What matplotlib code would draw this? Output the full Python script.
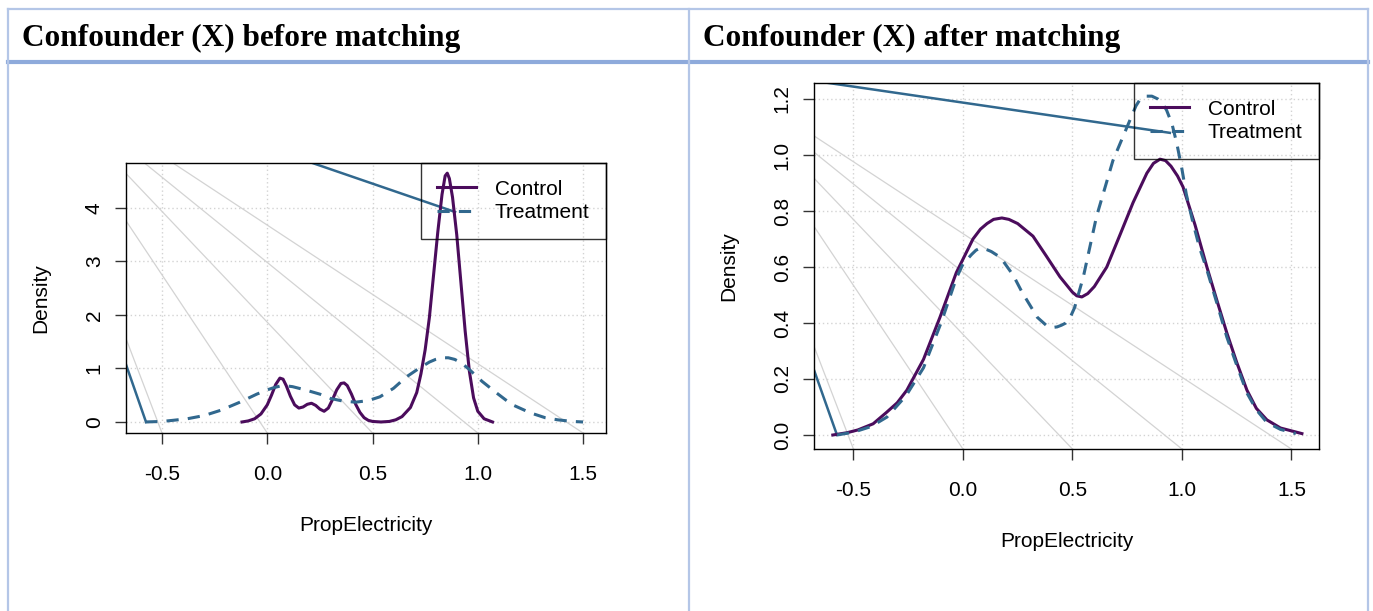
import matplotlib.pyplot as plt
from matplotlib.lines import Line2D

# density estimates of PropElectricity, before matching
before_ctrl_x = [-0.12, -0.09, -0.06, -0.03, 0.0, 0.02, 0.04, 0.06, 0.075, 0.09, 0.11, 0.13,
                 0.15, 0.17, 0.19, 0.21, 0.23, 0.25, 0.27, 0.29, 0.31, 0.33, 0.35, 0.365,
                 0.38, 0.40, 0.42, 0.44, 0.46, 0.48, 0.50, 0.54, 0.58, 0.61, 0.64, 0.68,
                 0.71, 0.73, 0.75, 0.77, 0.79, 0.81, 0.83, 0.845, 0.855, 0.865, 0.88, 0.90,
                 0.92, 0.94, 0.96, 0.98, 1.00, 1.03, 1.07]
before_ctrl_y = [0.0, 0.02, 0.06, 0.15, 0.32, 0.5, 0.7, 0.82, 0.8, 0.68, 0.48, 0.32,
                 0.26, 0.28, 0.33, 0.35, 0.31, 0.24, 0.2, 0.26, 0.42, 0.6, 0.72, 0.73,
                 0.68, 0.52, 0.33, 0.18, 0.08, 0.03, 0.01, 0.0, 0.01, 0.04, 0.1, 0.27,
                 0.55, 0.9, 1.35, 1.95, 2.75, 3.55, 4.25, 4.6, 4.65, 4.55, 4.2, 3.5,
                 2.6, 1.7, 0.95, 0.45, 0.2, 0.06, 0.0]
before_treat_x = [-0.58, -0.5, -0.45, -0.38, -0.3, -0.22, -0.13, -0.05, 0.0, 0.03, 0.06, 0.09,
                  0.12, 0.18, 0.25, 0.30, 0.36, 0.42, 0.48, 0.535, 0.60, 0.66, 0.72, 0.77,
                  0.80, 0.83, 0.86, 0.89, 0.92, 0.96, 1.02, 1.09, 1.16, 1.25, 1.32, 1.38,
                  1.45, 1.5]
before_treat_y = [0.0, 0.01, 0.03, 0.06, 0.12, 0.22, 0.37, 0.52, 0.6, 0.64, 0.67, 0.675,
                  0.66, 0.6, 0.52, 0.44, 0.39, 0.37, 0.4, 0.47, 0.63, 0.84, 1.0, 1.12,
                  1.17, 1.2, 1.2, 1.17, 1.11, 0.98, 0.76, 0.54, 0.33, 0.17, 0.08, 0.04,
                  0.01, 0.0]

# density estimates after matching
after_ctrl_x = [-0.594, -0.53, -0.48, -0.41, -0.35, -0.30, -0.256, -0.18, -0.105, -0.03, 0.046,
                0.08, 0.11, 0.14, 0.178, 0.21, 0.25, 0.32, 0.38, 0.443, 0.50, 0.52, 0.543,
                0.57, 0.60, 0.657, 0.72, 0.777, 0.84, 0.87, 0.90, 0.925, 0.95, 0.98, 1.005,
                1.06, 1.114, 1.16, 1.205, 1.25, 1.297, 1.34, 1.388, 1.45, 1.548]
after_ctrl_y = [0.0, 0.008, 0.018, 0.04, 0.08, 0.115, 0.16, 0.27, 0.42, 0.58, 0.70,
                0.735, 0.755, 0.77, 0.775, 0.77, 0.755, 0.71, 0.64, 0.565, 0.51, 0.497, 0.493,
                0.505, 0.53, 0.60, 0.72, 0.83, 0.935, 0.97, 0.985, 0.98, 0.96, 0.925, 0.886,
                0.75, 0.60, 0.48, 0.365, 0.26, 0.16, 0.095, 0.054, 0.025, 0.005]
after_treat_x = [-0.575, -0.5, -0.42, -0.347, -0.26, -0.18, -0.1, -0.03, 0.0, 0.04, 0.06,
                 0.078, 0.10, 0.13, 0.16, 0.18, 0.23, 0.27, 0.34, 0.383, 0.41, 0.43, 0.45,
                 0.47, 0.49, 0.51, 0.55, 0.61, 0.685, 0.763, 0.79, 0.81, 0.835, 0.863, 0.89,
                 0.91, 0.93, 0.955, 0.977, 1.0, 1.02, 1.05, 1.08, 1.114, 1.16, 1.205, 1.25,
                 1.297, 1.34, 1.388, 1.45, 1.52]
after_treat_y = [0.0, 0.01, 0.03, 0.064, 0.14, 0.24, 0.40, 0.56, 0.61, 0.645, 0.66,
                 0.667, 0.665, 0.655, 0.64, 0.625, 0.57, 0.51, 0.42, 0.39, 0.384, 0.386, 0.392,
                 0.40, 0.42, 0.455, 0.565, 0.78, 0.98, 1.125, 1.175, 1.2, 1.21, 1.21, 1.2,
                 1.185, 1.16, 1.11, 1.04, 0.95, 0.86, 0.76, 0.67, 0.59, 0.47, 0.35, 0.25,
                 0.15, 0.09, 0.045, 0.02, 0.005]

x_ticks = [-0.5, 0.0, 0.5, 1.0, 1.5]
before_yticks = [0, 1, 2, 3, 4]
after_yticks = [0.0, 0.2, 0.4, 0.6, 0.8, 1.0, 1.2]

# stray segments left on the device: (legend point, origin, foot of curve)
before_stray_x = [0.892, -1.17, -0.576]
before_stray_y = [3.925, 6.71, 0.0]
after_stray_x = [0.945, -1.173, -0.575]
after_stray_y = [1.079, 1.321, 0.0]

CTRL = '#4B0C5C'
TREAT = '#31688E'
W, H = 1373, 611
FS = 15

plt.rcParams['font.family'] = ['Liberation Sans', 'DejaVu Sans']

fig = plt.figure(figsize=(W / 100, H / 100), dpi=100)


def fx(px):
    return px / W


def fy(py):
    return 1 - py / H


def panel(rect, cx, cy, tx, ty, yticks, xlim, ylim, sx, sy):
    ax = fig.add_axes(rect)
    ax.set_xlim(*xlim)
    ax.set_ylim(*ylim)
    ax.set_xticks(x_ticks)
    ax.set_xticklabels(['-0.5', '0.0', '0.5', '1.0', '1.5'])
    ax.set_yticks(yticks)
    ax.grid(True, color='lightgray', linestyle=(0, (1, 2)), linewidth=1)
    ax.set_axisbelow(True)
    # fan of grey rays from the stray origin down to each x tick
    for t in x_ticks:
        ax.plot([sx[1], t], [sy[1], ylim[0]], color='#d3d3d3', linewidth=0.9, zorder=1)
    ax.plot(sx, sy, color=TREAT, linewidth=1.8, zorder=2)
    ax.plot(cx, cy, color=CTRL, linewidth=2.2, label='Control', zorder=3)
    ax.plot(tx, ty, color=TREAT, linewidth=2.2, dashes=(4, 3), label='Treatment', zorder=3)
    for s in ax.spines.values():
        s.set_color('black')
        s.set_linewidth(1.0)
    ax.tick_params(axis='both', length=8, width=1, color='#333333', labelsize=FS)
    ax.tick_params(axis='x', pad=15)
    ax.tick_params(axis='y', pad=8)
    for lab in ax.get_yticklabels():
        lab.set_rotation(90)
        lab.set_va('center')
    ax.set_xlabel('PropElectricity', fontsize=FS, labelpad=23)
    ax.set_ylabel('Density', fontsize=FS, labelpad=25)
    leg = ax.legend(loc='upper right', borderaxespad=0, fancybox=False, fontsize=FS,
                    handlelength=1.85, handletextpad=0.9, labelspacing=0.2,
                    borderpad=0.8, edgecolor='black')
    leg.get_frame().set_facecolor('none')
    leg.get_frame().set_linewidth(1.0)
    return ax


panel([fx(126), fy(433), fx(606) - fx(126), fy(163) - fy(433)],
      before_ctrl_x, before_ctrl_y, before_treat_x, before_treat_y,
      before_yticks, (-0.671, 1.609), (-0.206, 4.84), before_stray_x, before_stray_y)
panel([fx(814), fy(449), fx(1319) - fx(814), fy(83) - fy(449)],
      after_ctrl_x, after_ctrl_y, after_treat_x, after_treat_y,
      after_yticks, (-0.680, 1.626), (-0.05, 1.257), after_stray_x, after_stray_y)

# table frame around the two panels
border = '#B4C6E7'
fig.add_artist(Line2D([fx(8), fx(1368)], [fy(9), fy(9)], color=border, lw=1.6))
fig.add_artist(Line2D([fx(8), fx(1368)], [fy(62), fy(62)], color='#8EAADB', lw=3.0))
for px in (8, 689, 1368):
    fig.add_artist(Line2D([fx(px), fx(px)], [fy(9), 0], color=border, lw=1.6))

title_kw = dict(fontsize=22.5, fontweight='bold', family=['Liberation Serif', 'DejaVu Serif'],
                va='baseline', ha='left')
fig.text(fx(22), fy(46), 'Confounder (X) before matching', **title_kw)
fig.text(fx(703), fy(46), 'Confounder (X) after matching', **title_kw)

fig.savefig('out.png', dpi=100)
